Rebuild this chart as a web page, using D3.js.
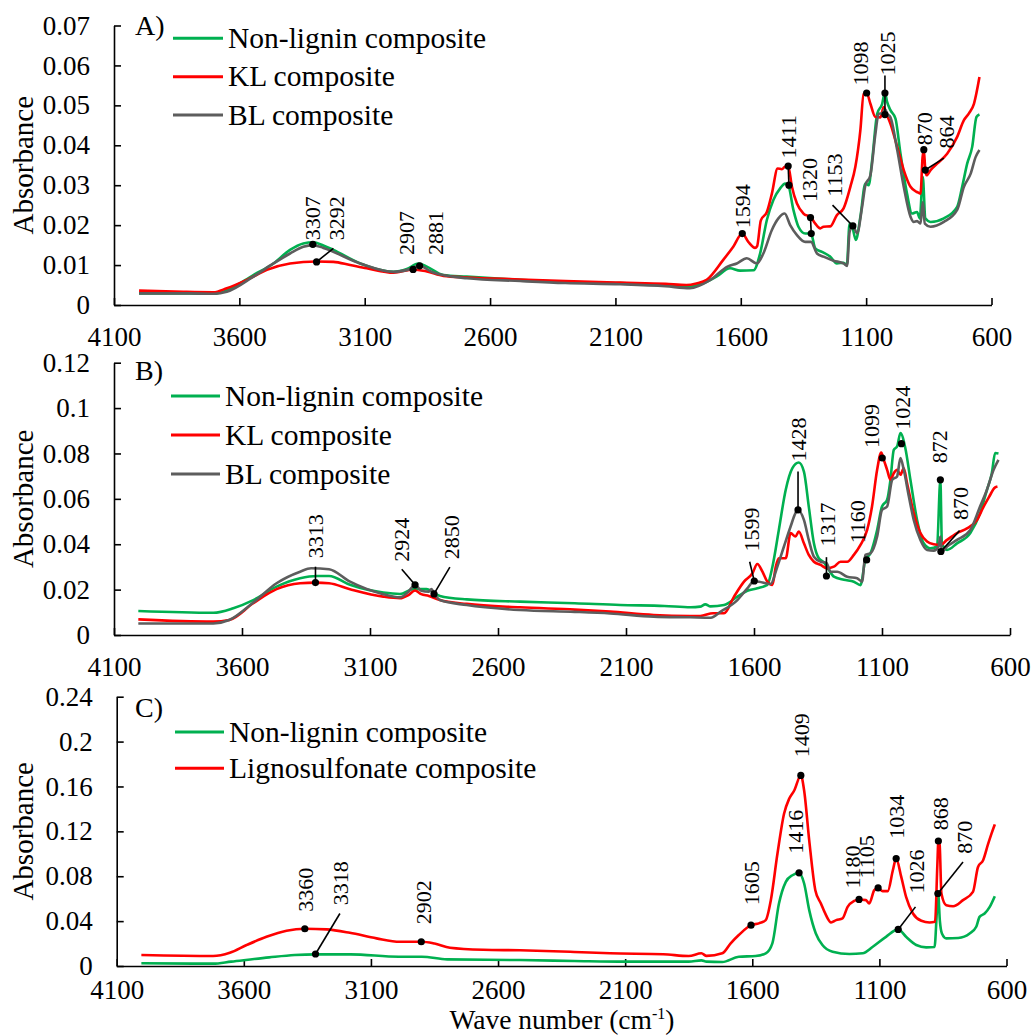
<!DOCTYPE html>
<html>
<head>
<meta charset="utf-8">
<script src="https://cdn.jsdelivr.net/npm/d3@7"></script>
<style>
  html, body { margin: 0; padding: 0; background: #fff; }
  svg { display: block; font-family: "Liberation Serif", "Times New Roman", serif; }
</style>
</head>
<body>
<svg id="chart" width="1033" height="1035"></svg>
<script>
// ---------- shared axis values ----------
const waveTicks = [4100, 3600, 3100, 2600, 2100, 1600, 1100, 600];
const absTicksA = [0, 0.01, 0.02, 0.03, 0.04, 0.05, 0.06, 0.07];
const absLabelsA = ["0", "0.01", "0.02", "0.03", "0.04", "0.05", "0.06", "0.07"];
const absTicksB = [0, 0.02, 0.04, 0.06, 0.08, 0.1, 0.12];
const absLabelsB = ["0", "0.02", "0.04", "0.06", "0.08", "0.1", "0.12"];
const absTicksC = [0, 0.04, 0.08, 0.12, 0.16, 0.2, 0.24];
const absLabelsC = ["0", "0.04", "0.08", "0.12", "0.16", "0.2", "0.24"];

const seriesNamesAB = ["Non-lignin composite", "KL composite", "BL composite"];
const seriesNamesC = ["Non-lignin composite", "Lignosulfonate composite"];

// ---------- spectra: [wave number (cm-1), absorbance] ----------
// A) Non-lignin composite
const specA_nonLignin = [
  [4000,0.0029],[3800,0.0029],[3700,0.0028],[3650,0.0037],[3544,0.0075],[3464,0.0104],[3398,0.0138],
  [3345,0.0154],[3305,0.0157],[3265,0.0149],[3225,0.0138],[3118,0.0104],[2985,0.0083],[2932,0.0090],
  [2886,0.0104],[2852,0.0096],[2786,0.0075],[2693,0.0071],[2480,0.0063],[2300,0.0058],[2081,0.0055],
  [1900,0.0050],[1803,0.0046],[1697,0.0071],[1643,0.0092],[1603,0.0086],[1549,0.0087],[1523,0.0129],
  [1496,0.0213],[1470,0.0263],[1443,0.0292],[1423,0.0304],[1411,0.0300],[1390,0.0238],[1370,0.0196],
  [1343,0.0179],[1320,0.0179],[1303,0.0142],[1276,0.0133],[1243,0.0121],[1217,0.0104],[1190,0.0106],
  [1177,0.0100],[1166,0.0204],[1157,0.0200],[1141,0.0163],[1123,0.0221],[1103,0.0304],[1090,0.0300],
  [1076,0.0363],[1056,0.0479],[1036,0.0504],[1025,0.0533],[1017,0.0510],[1003,0.0488],[983,0.0467],
  [963,0.0379],[937,0.0279],[917,0.0229],[897,0.0233],[886,0.0217],[874,0.0321],[864,0.0217],
  [843,0.0208],[790,0.0217],[737,0.0246],[717,0.0296],[697,0.0354],[677,0.0396],[660,0.0471],[648,0.0477]
];
// A) KL composite
const specA_kl = [
  [4000,0.0036],[3823,0.0033],[3704,0.0032],[3650,0.0042],[3570,0.0063],[3490,0.0088],[3398,0.0104],
  [3292,0.0109],[3225,0.0108],[3158,0.0100],[3092,0.0092],[2985,0.0081],[2907,0.0089],[2852,0.0084],
  [2786,0.0073],[2693,0.0069],[2480,0.0064],[2300,0.0060],[2081,0.0056],[1900,0.0053],[1817,0.0050],
  [1777,0.0054],[1736,0.0063],[1670,0.0113],[1630,0.0146],[1594,0.0179],[1570,0.0158],[1543,0.0143],
  [1535,0.0147],[1520,0.0212],[1496,0.0233],[1476,0.0279],[1453,0.0342],[1436,0.0340],[1425,0.0346],
  [1411,0.0348],[1396,0.0296],[1376,0.0254],[1350,0.0229],[1320,0.0219],[1303,0.0204],[1283,0.0192],
  [1270,0.0196],[1243,0.0197],[1217,0.0225],[1190,0.0242],[1163,0.0296],[1143,0.0346],[1123,0.0438],
  [1110,0.0529],[1098,0.0531],[1083,0.0504],[1063,0.0471],[1043,0.0470],[1030,0.0496],[1020,0.0480],
  [1003,0.0454],[976,0.0396],[950,0.0338],[923,0.0296],[897,0.0283],[883,0.0279],[875,0.0370],
  [870,0.0389],[864,0.0338],[859,0.0325],[843,0.0338],[817,0.0354],[777,0.0379],[737,0.0421],
  [710,0.0463],[690,0.0480],[670,0.0504],[648,0.0571]
];
// A) BL composite
const specA_bl = [
  [4000,0.0029],[3800,0.0029],[3700,0.0028],[3650,0.0033],[3544,0.0071],[3464,0.0104],[3398,0.0129],
  [3345,0.0146],[3307,0.0150],[3265,0.0143],[3118,0.0104],[2985,0.0083],[2930,0.0088],[2881,0.0098],
  [2830,0.0082],[2693,0.0067],[2480,0.0060],[2300,0.0055],[2081,0.0052],[1900,0.0047],[1803,0.0042],
  [1723,0.0062],[1653,0.0096],[1616,0.0104],[1576,0.0117],[1536,0.0104],[1510,0.0129],[1476,0.0188],
  [1450,0.0217],[1425,0.0229],[1403,0.0200],[1376,0.0175],[1343,0.0158],[1320,0.0158],[1296,0.0129],
  [1270,0.0121],[1230,0.0111],[1190,0.0104],[1176,0.0098],[1166,0.0183],[1153,0.0198],[1136,0.0180],
  [1116,0.0246],[1103,0.0300],[1083,0.0325],[1063,0.0429],[1050,0.0479],[1035,0.0480],[1025,0.0490],
  [1015,0.0478],[1003,0.0470],[976,0.0388],[950,0.0296],[923,0.0221],[910,0.0208],[897,0.0210],
  [883,0.0204],[874,0.0258],[866,0.0204],[843,0.0196],[790,0.0208],[737,0.0238],[710,0.0296],
  [683,0.0329],[663,0.0371],[648,0.0388]
];

// B) Non-lignin composite
const specB_nonLignin = [
  [4005,0.0106],[3712,0.0098],[3634,0.0118],[3556,0.0154],[3465,0.0213],[3373,0.0250],[3308,0.0260],
  [3260,0.0260],[3178,0.0221],[3048,0.0187],[2983,0.0181],[2931,0.0202],[2880,0.0202],[2827,0.0172],
  [2722,0.0157],[2514,0.0147],[2300,0.0140],[2123,0.0132],[1950,0.0128],[1847,0.0122],[1811,0.0125],
  [1790,0.0135],[1770,0.0126],[1717,0.0132],[1665,0.0169],[1626,0.0195],[1587,0.0206],[1548,0.0221],
  [1528,0.0301],[1503,0.0463],[1476,0.0640],[1450,0.0735],[1425,0.0760],[1405,0.0720],[1386,0.0566],
  [1366,0.0404],[1347,0.0338],[1327,0.0320],[1308,0.0287],[1288,0.0257],[1249,0.0243],[1210,0.0235],
  [1184,0.0220],[1165,0.0331],[1145,0.0360],[1119,0.0463],[1100,0.0566],[1080,0.0596],[1067,0.0684],
  [1054,0.0816],[1041,0.0831],[1028,0.0890],[1009,0.0824],[989,0.0684],[963,0.0507],[937,0.0404],
  [911,0.0382],[885,0.0390],[872,0.0684],[866,0.0404],[846,0.0375],[807,0.0404],[755,0.0449],
  [717,0.0537],[690,0.0640],[671,0.0713],[658,0.0802],[645,0.0800]
];
// B) KL composite
const specB_kl = [
  [4005,0.0069],[3712,0.0059],[3650,0.0066],[3556,0.0140],[3465,0.0202],[3373,0.0228],[3313,0.0231],
  [3260,0.0228],[3178,0.0202],[3048,0.0169],[2983,0.0162],[2950,0.0176],[2924,0.0196],[2900,0.0180],
  [2870,0.0172],[2827,0.0154],[2722,0.0137],[2514,0.0122],[2300,0.0112],[2162,0.0103],[1992,0.0088],
  [1850,0.0084],[1810,0.0084],[1760,0.0096],[1717,0.0096],[1678,0.0169],[1639,0.0235],[1606,0.0272],
  [1587,0.0313],[1567,0.0279],[1548,0.0235],[1528,0.0221],[1515,0.0301],[1503,0.0338],[1476,0.0338],
  [1457,0.0449],[1438,0.0434],[1425,0.0456],[1405,0.0404],[1386,0.0353],[1366,0.0323],[1340,0.0309],
  [1314,0.0294],[1288,0.0301],[1262,0.0323],[1236,0.0323],[1210,0.0353],[1184,0.0397],[1158,0.0463],
  [1139,0.0566],[1119,0.0728],[1103,0.0804],[1093,0.0772],[1080,0.0728],[1067,0.0684],[1054,0.0713],
  [1041,0.0728],[1028,0.0706],[1015,0.0735],[1002,0.0669],[976,0.0537],[950,0.0449],[924,0.0412],
  [898,0.0400],[872,0.0397],[846,0.0419],[807,0.0449],[768,0.0470],[729,0.0507],[703,0.0566],
  [677,0.0618],[662,0.0647],[649,0.0654]
];
// B) BL composite
const specB_bl = [
  [4005,0.0051],[3712,0.0051],[3650,0.0066],[3556,0.0143],[3465,0.0228],[3373,0.0279],[3330,0.0294],
  [3260,0.0290],[3178,0.0235],[3048,0.0180],[2983,0.0166],[2950,0.0191],[2924,0.0221],[2900,0.0195],
  [2870,0.0191],[2860,0.0202],[2850,0.0185],[2827,0.0154],[2722,0.0132],[2514,0.0110],[2300,0.0102],
  [2162,0.0095],[1992,0.0081],[1850,0.0078],[1769,0.0076],[1730,0.0103],[1665,0.0154],[1626,0.0206],
  [1599,0.0238],[1580,0.0235],[1535,0.0225],[1509,0.0301],[1483,0.0390],[1457,0.0478],[1438,0.0537],
  [1428,0.0551],[1405,0.0507],[1386,0.0419],[1366,0.0345],[1340,0.0323],[1317,0.0318],[1301,0.0279],
  [1275,0.0279],[1236,0.0257],[1197,0.0250],[1178,0.0235],[1165,0.0353],[1145,0.0360],[1119,0.0434],
  [1100,0.0551],[1080,0.0566],[1060,0.0684],[1041,0.0699],[1028,0.0780],[1015,0.0728],[995,0.0610],
  [976,0.0507],[950,0.0419],[924,0.0375],[898,0.0372],[879,0.0390],[872,0.0434],[866,0.0368],
  [846,0.0390],[807,0.0419],[755,0.0463],[717,0.0566],[690,0.0640],[664,0.0728],[645,0.0772]
];

// C) Non-lignin composite
const specC_nonLignin = [
  [4003,0.0024],[3721,0.0021],[3650,0.0039],[3500,0.0077],[3400,0.0098],[3318,0.0104],[3180,0.0104],
  [2990,0.0083],[2900,0.0083],[2800,0.0059],[2514,0.0053],[2300,0.0045],[2100,0.0039],[1850,0.0039],
  [1800,0.0050],[1780,0.0039],[1718,0.0036],[1653,0.0083],[1587,0.0089],[1547,0.0113],[1521,0.0202],
  [1495,0.0557],[1468,0.0750],[1442,0.0809],[1416,0.0830],[1396,0.0735],[1376,0.0498],[1350,0.0290],
  [1324,0.0187],[1284,0.0127],[1218,0.0107],[1166,0.0113],[1126,0.0172],[1074,0.0260],[1026,0.0326],
  [995,0.0260],[955,0.0187],[916,0.0166],[883,0.0170],[874,0.0480],[869,0.0646],[862,0.0400],
  [854,0.0290],[837,0.0246],[790,0.0250],[745,0.0290],[719,0.0350],[706,0.0438],[686,0.0468],
  [666,0.0527],[646,0.0622]
];
// C) Lignosulfonate composite
const specC_ligno = [
  [4003,0.0098],[3721,0.0089],[3655,0.0118],[3589,0.0187],[3511,0.0260],[3432,0.0314],[3360,0.0332],
  [3274,0.0326],[3183,0.0296],[3078,0.0246],[2986,0.0216],[2900,0.0216],[2850,0.0200],[2789,0.0163],
  [2658,0.0145],[2514,0.0140],[2300,0.0125],[2159,0.0113],[1950,0.0105],[1850,0.0089],[1800,0.0113],
  [1780,0.0090],[1718,0.0113],[1685,0.0202],[1653,0.0276],[1605,0.0364],[1574,0.0380],[1547,0.0409],
  [1527,0.0587],[1501,0.1000],[1475,0.1357],[1455,0.1490],[1435,0.1564],[1409,0.1698],[1396,0.1564],
  [1376,0.1120],[1352,0.0676],[1330,0.0557],[1310,0.0453],[1290,0.0388],[1270,0.0409],[1245,0.0424],
  [1225,0.0527],[1199,0.0580],[1180,0.0593],[1153,0.0587],[1140,0.0557],[1120,0.0676],[1105,0.0696],
  [1087,0.0667],[1067,0.0667],[1047,0.0853],[1034,0.0957],[1014,0.0794],[995,0.0616],[968,0.0468],
  [935,0.0403],[903,0.0388],[881,0.0394],[872,0.0900],[868,0.1114],[863,0.1080],[856,0.0646],
  [837,0.0542],[810,0.0533],[771,0.0587],[732,0.0660],[712,0.0883],[692,0.0942],[672,0.1090],
  [659,0.1180],[646,0.1262]
];

// ---------- peak annotations (data units): label, label anchor, marked points, leader ----------
const peaksA = [
  { text: "3307", at: [3309, 0.0162], dots: [[3307, 0.0152]] },
  { text: "3292", at: [3214, 0.0162], dots: [[3292, 0.0108]], leader: [[3292, 0.0108], [3225, 0.0142]] },
  { text: "2907", at: [2935, 0.0125], dots: [[2907, 0.0089]] },
  { text: "2881", at: [2819, 0.0125], dots: [[2881, 0.0098]] },
  { text: "1594", at: [1594, 0.0192], dots: [[1594, 0.0179]] },
  { text: "1411", at: [1411, 0.0367], dots: [[1411, 0.0348], [1408, 0.0300]], leader: [[1411, 0.0348], [1408, 0.0300]] },
  { text: "1320", at: [1326, 0.0258], dots: [[1322, 0.0219], [1319, 0.0179]], leader: [[1322, 0.0219], [1319, 0.0179]] },
  { text: "1153", at: [1227, 0.0271], dots: [[1153, 0.0198]], leader: [[1153, 0.0198], [1234, 0.0250]] },
  { text: "1098", at: [1123, 0.0550], dots: [[1098, 0.0531]] },
  { text: "1025", at: [1016, 0.0575], dots: [[1025, 0.0531], [1025, 0.0477]], leader: [[1025, 0.0575], [1025, 0.0477]] },
  { text: "870", at: [867, 0.0400], dots: [[870, 0.0389]] },
  { text: "864", at: [780, 0.0392], dots: [[864, 0.0338]], leader: [[864, 0.0338], [790, 0.0368]] }
];
const peaksB = [
  { text: "3313", at: [3315, 0.0338], dots: [[3313, 0.0231]], leader: [[3313, 0.0231], [3313, 0.0301]] },
  { text: "2924", at: [2976, 0.0323], dots: [[2924, 0.0221]], leader: [[2924, 0.0221], [2976, 0.0290]] },
  { text: "2850", at: [2781, 0.0334], dots: [[2850, 0.0181]], leader: [[2850, 0.0181], [2788, 0.0299]] },
  { text: "1599", at: [1612, 0.0368], dots: [[1599, 0.0238]], leader: [[1599, 0.0238], [1617, 0.0323]] },
  { text: "1428", at: [1427, 0.0765], dots: [[1428, 0.0551]], leader: [[1428, 0.0551], [1428, 0.0720]] },
  { text: "1317", at: [1315, 0.0390], dots: [[1317, 0.0260]], leader: [[1317, 0.0260], [1317, 0.0343]] },
  { text: "1160", at: [1197, 0.0404], dots: [[1160, 0.0331]] },
  { text: "1099", at: [1143, 0.0824], dots: [[1099, 0.0780]] },
  { text: "1024", at: [1022, 0.0904], dots: [[1024, 0.0843]] },
  { text: "872", at: [875, 0.0757], dots: [[872, 0.0684]] },
  { text: "870", at: [795, 0.0507], dots: [[870, 0.0368]], leader: [[870, 0.0368], [797, 0.0460]] }
];
const peaksC = [
  { text: "3360", at: [3360, 0.0483], dots: [[3360, 0.0332]] },
  { text: "3318", at: [3222, 0.0542], dots: [[3318, 0.0107]], leader: [[3318, 0.0107], [3222, 0.0468]] },
  { text: "2902", at: [2894, 0.0373], dots: [[2902, 0.0216]] },
  { text: "1605", at: [1602, 0.0542], dots: [[1605, 0.0364]] },
  { text: "1409", at: [1409, 0.1860], dots: [[1409, 0.1698]] },
  { text: "1416", at: [1431, 0.1000], dots: [[1416, 0.0830]] },
  { text: "1180", at: [1208, 0.0690], dots: [[1180, 0.0593]] },
  { text: "1105", at: [1152, 0.0780], dots: [[1105, 0.0696]] },
  { text: "1034", at: [1032, 0.1135], dots: [[1034, 0.0957]] },
  { text: "1026", at: [955, 0.0646], dots: [[1026, 0.0326]], leader: [[1026, 0.0326], [958, 0.0527]] },
  { text: "868", at: [860, 0.1209], dots: [[868, 0.1114]] },
  { text: "870", at: [765, 0.1000], dots: [[870, 0.0646]], leader: [[870, 0.0646], [771, 0.0927]] }
];

// ---------- styling ----------
const GREEN = "#00b050", RED = "#ff0000", GRAY = "#5d5d5d";
const FONT_TICK = 27, FONT_LEGEND = 29.5, FONT_TITLE = 29, FONT_TAG = 28, FONT_PEAK = 22;

const panels = [
  {
    tag: "A)", tagY: 35, xLeft: 114, xRight: 991.5, yBottom: 305, yTop: 25.5, yMax: 0.07, tickGap: 41,
    ticks: absTicksA, tickLabels: absLabelsA, peaks: peaksA,
    series: [
      { name: seriesNamesAB[0], color: GREEN, data: specA_nonLignin },
      { name: seriesNamesAB[1], color: RED, data: specA_kl },
      { name: seriesNamesAB[2], color: GRAY, data: specA_bl }
    ],
    legend: { x0: 173, x1: 223, tx: 228, ys: [38.3, 76.7, 115] }
  },
  {
    tag: "B)", tagY: 380, xLeft: 114, xRight: 1010, yBottom: 635, yTop: 362.7, yMax: 0.12, tickGap: 41,
    ticks: absTicksB, tickLabels: absLabelsB, peaks: peaksB,
    series: [
      { name: seriesNamesAB[0], color: GREEN, data: specB_nonLignin },
      { name: seriesNamesAB[1], color: RED, data: specB_kl },
      { name: seriesNamesAB[2], color: GRAY, data: specB_bl }
    ],
    legend: { x0: 171, x1: 220, tx: 225, ys: [396, 435, 474] }
  },
  {
    tag: "C)", tagY: 717, xLeft: 116.7, xRight: 1006.5, yBottom: 966, yTop: 696.7, yMax: 0.24, tickGap: 32.5,
    ticks: absTicksC, tickLabels: absLabelsC, peaks: peaksC,
    series: [
      { name: seriesNamesC[0], color: GREEN, data: specC_nonLignin },
      { name: seriesNamesC[1], color: RED, data: specC_ligno }
    ],
    legend: { x0: 175, x1: 224, tx: 229, ys: [732, 768.3] }
  }
];

const svg = d3.select("#chart");

panels.forEach(p => {
  const x = d3.scaleLinear().domain([4100, 600]).range([p.xLeft, p.xRight]);
  const y = d3.scaleLinear().domain([0, p.yMax]).range([p.yBottom, p.yTop]);
  const g = svg.append("g");

  // x axis: ticks point inward (up), labels below
  const xAxis = d3.axisBottom(x).tickValues(waveTicks).tickSizeInner(-7).tickSizeOuter(0)
    .tickFormat(d3.format("d"));
  const gx = g.append("g").attr("transform", `translate(0,${p.yBottom})`).call(xAxis);
  gx.attr("font-family", null);
  gx.select(".domain").attr("stroke", "#000").attr("stroke-width", 1.6);
  gx.selectAll(".tick line").attr("stroke", "#000").attr("stroke-width", 1.6);
  gx.selectAll(".tick text").attr("y", p.tickGap).attr("dy", 0)
    .attr("font-size", FONT_TICK).attr("fill", "#000");

  // y axis: ticks point inward (right)
  const yAxis = d3.axisLeft(y).tickValues(p.ticks).tickSizeInner(-7).tickSizeOuter(0).tickPadding(24)
    .tickFormat((d, i) => p.tickLabels[i]);
  const gy = g.append("g").attr("transform", `translate(${p.xLeft},0)`).call(yAxis);
  gy.attr("font-family", null);
  gy.select(".domain").attr("stroke", "#000").attr("stroke-width", 1.6);
  gy.selectAll(".tick line").attr("stroke", "#000").attr("stroke-width", 1.6);
  gy.selectAll(".tick text").attr("font-size", FONT_TICK).attr("fill", "#000");

  // y axis title
  g.append("text")
    .attr("transform", `translate(33,${(p.yBottom + p.yTop) / 2}) rotate(-90)`)
    .attr("text-anchor", "middle").attr("font-size", FONT_TITLE).attr("fill", "#000")
    .text("Absorbance");

  // spectra
  const line = d3.line().x(d => x(d[0])).y(d => y(d[1])).curve(d3.curveMonotoneX);
  p.series.forEach(s => {
    g.append("path").datum(s.data)
      .attr("d", line).attr("fill", "none").attr("stroke", s.color)
      .attr("stroke-width", 2.6).attr("stroke-linejoin", "round");
  });

  // peak annotations
  const ann = g.append("g");
  p.peaks.forEach(pk => {
    if (pk.leader) {
      ann.append("path")
        .attr("d", d3.line().x(d => x(d[0])).y(d => y(d[1]))(pk.leader))
        .attr("stroke", "#000").attr("stroke-width", 1.6).attr("fill", "none");
    }
    pk.dots.forEach(d => {
      ann.append("circle").attr("cx", x(d[0])).attr("cy", y(d[1])).attr("r", 3.6).attr("fill", "#000");
    });
    ann.append("text")
      .attr("transform", `translate(${x(pk.at[0])},${y(pk.at[1])}) rotate(-90)`)
      .attr("dy", "0.35em").attr("text-anchor", "start")
      .attr("font-size", FONT_PEAK).attr("fill", "#000").text(pk.text);
  });

  // legend
  p.series.forEach((s, i) => {
    const ly = p.legend.ys[i];
    g.append("line").attr("x1", p.legend.x0).attr("x2", p.legend.x1).attr("y1", ly).attr("y2", ly)
      .attr("stroke", s.color).attr("stroke-width", 3);
    g.append("text").attr("x", p.legend.tx).attr("y", ly).attr("dy", "0.33em")
      .attr("font-size", FONT_LEGEND).attr("fill", "#000").text(s.name);
  });

  // panel tag
  g.append("text").attr("x", 135).attr("y", p.tagY).attr("font-size", FONT_TAG).attr("fill", "#000").text(p.tag);
});

// shared x axis title
const xt = svg.append("text").attr("x", 562).attr("y", 1029).attr("text-anchor", "middle")
  .attr("font-size", 27.5).attr("fill", "#000");
xt.append("tspan").text("Wave number (cm");
xt.append("tspan").attr("font-size", 16).attr("dy", -10).text("-1");
xt.append("tspan").attr("dy", 10).text(")");
</script>
</body>
</html>
